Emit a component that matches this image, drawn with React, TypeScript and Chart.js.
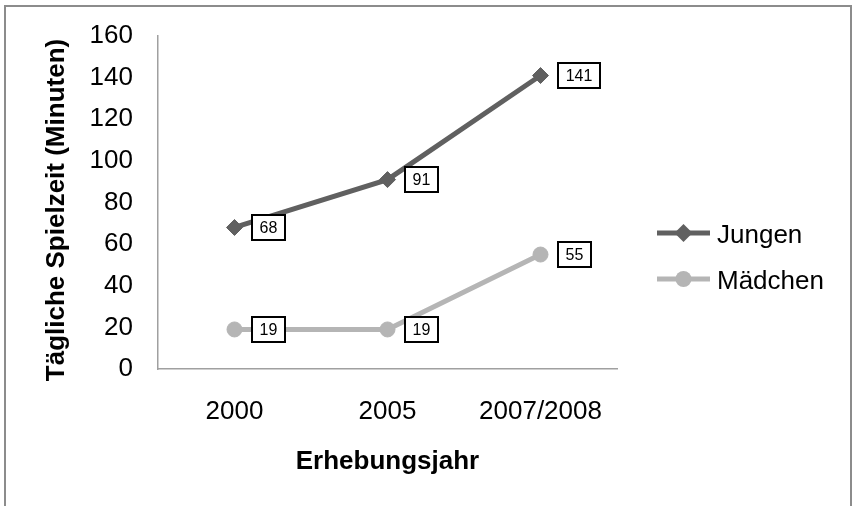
import React, { useEffect, useRef } from 'react';
import { Chart, registerables } from 'chart.js';

Chart.register(...registerables);

const categories = ['2000', '2005', '2007/2008'];
const jungenValues = [68, 91, 141];
const maedchenValues = [19, 19, 55];
const seriesNames = ['Jungen', 'Mädchen'];
const yMin = 0;
const yMax = 160;
const yStep = 20;
const xTitle = 'Erhebungsjahr';
const yTitle = 'Tägliche Spielzeit (Minuten)';

const FONT = '"Liberation Sans", Arial, sans-serif';
const DARK = '#606060';
const LIGHT = '#b5b5b5';

const framePlugin = {
  id: 'frame',
  beforeDraw(chart: any) {
    const { ctx, width, height } = chart;
    ctx.save();
    ctx.fillStyle = '#ffffff';
    ctx.fillRect(0, 0, width, height);
    ctx.restore();
  },
  afterDraw(chart: any) {
    const { ctx } = chart;
    ctx.save();
    ctx.strokeStyle = '#8c8c8c';
    ctx.lineWidth = 2;
    ctx.strokeRect(5, 6, 846, 520);
    ctx.restore();
  },
};

const yTitlePlugin = {
  id: 'yTitleCustom',
  afterDraw(chart: any) {
    const { ctx } = chart;
    ctx.save();
    ctx.translate(57, 210);
    ctx.rotate(-Math.PI / 2);
    ctx.font = `bold 26px ${FONT}`;
    ctx.fillStyle = '#000';
    ctx.textAlign = 'center';
    ctx.textBaseline = 'middle';
    ctx.fillText(yTitle, 0, 0);
    ctx.restore();
  },
};

const labelPlugin = {
  id: 'boxLabels',
  afterDatasetsDraw(chart: any) {
    const { ctx } = chart;
    ctx.save();
    ctx.font = `16px ${FONT}`;
    chart.data.datasets.forEach((ds: any, i: number) => {
      const meta = chart.getDatasetMeta(i);
      meta.data.forEach((pt: any, j: number) => {
        const text = String(ds.data[j]);
        const tw = ctx.measureText(text).width;
        const w = Math.round(tw + 17);
        const h = 27;
        const left = Math.round(pt.x + 16);
        const top = Math.round(pt.y - h / 2);
        ctx.fillStyle = '#fff';
        ctx.fillRect(left, top, w, h);
        ctx.strokeStyle = '#000';
        ctx.lineWidth = 2;
        ctx.strokeRect(left + 1, top + 1, w - 2, h - 2);
        ctx.fillStyle = '#000';
        ctx.textAlign = 'center';
        ctx.textBaseline = 'middle';
        ctx.fillText(text, left + w / 2, top + h / 2 + 1);
      });
    });
    ctx.restore();
  },
};

const legendPlugin = {
  id: 'sideLegend',
  afterDraw(chart: any) {
    const { ctx } = chart;
    ctx.save();
    const rows = [233, 279];
    chart.data.datasets.forEach((ds: any, i: number) => {
      const y = rows[i];
      ctx.strokeStyle = ds.borderColor;
      ctx.lineWidth = 5;
      ctx.beginPath();
      ctx.moveTo(657, y);
      ctx.lineTo(710, y);
      ctx.stroke();
      ctx.fillStyle = ds.borderColor;
      const cx = 683.5;
      ctx.beginPath();
      if (ds.pointStyle === 'rectRot') {
        const r = 9;
        ctx.moveTo(cx - r, y);
        ctx.lineTo(cx, y - r);
        ctx.lineTo(cx + r, y);
        ctx.lineTo(cx, y + r);
        ctx.closePath();
      } else {
        ctx.arc(cx, y, 8, 0, Math.PI * 2);
      }
      ctx.fill();
      ctx.font = `26px ${FONT}`;
      ctx.fillStyle = '#000';
      ctx.textAlign = 'left';
      ctx.textBaseline = 'middle';
      ctx.fillText(ds.label, 717, y + 3);
    });
    ctx.restore();
  },
};

export default function App() {
  const canvasRef = useRef<HTMLCanvasElement | null>(null);

  useEffect(() => {
    document.body.style.margin = '0';
    const canvas = canvasRef.current;
    if (!canvas) return;
    const chart = new Chart(canvas, {
      type: 'line',
      data: {
        labels: categories,
        datasets: [
          {
            label: seriesNames[0],
            data: jungenValues,
            borderColor: DARK,
            backgroundColor: DARK,
            pointBackgroundColor: DARK,
            pointBorderColor: DARK,
            borderWidth: 5,
            pointStyle: 'rectRot',
            pointRadius: 8,
            pointBorderWidth: 1,
            tension: 0,
          },
          {
            label: seriesNames[1],
            data: maedchenValues,
            borderColor: LIGHT,
            backgroundColor: LIGHT,
            pointBackgroundColor: LIGHT,
            pointBorderColor: LIGHT,
            borderWidth: 5,
            pointStyle: 'circle',
            pointRadius: 7.5,
            pointBorderWidth: 1,
            tension: 0,
          },
        ],
      },
      options: {
        responsive: false,
        animation: false,
        devicePixelRatio: 1,
        layout: { padding: { left: 0, top: 0, right: 237, bottom: 0 } },
        plugins: {
          legend: { display: false },
          tooltip: { enabled: false },
        },
        scales: {
          x: {
            type: 'category',
            offset: true,
            grid: { display: false, drawTicks: false },
            border: { display: true, color: '#a0a0a0', width: 1.5 },
            ticks: {
              color: '#000',
              font: { family: FONT, size: 26 },
              padding: 27,
              maxRotation: 0,
            },
            title: {
              display: true,
              text: xTitle,
              color: '#000',
              font: { family: FONT, size: 26, weight: 'bold' },
              padding: { top: 0, bottom: 29 },
            },
            afterFit(scale: any) {
              scale.height = 137;
            },
          },
          y: {
            min: yMin,
            max: yMax,
            grid: { display: false, drawTicks: false },
            border: { display: true, color: '#a0a0a0', width: 1.5 },
            ticks: {
              stepSize: yStep,
              color: '#000',
              font: { family: FONT, size: 26 },
              padding: 25,
            },
            afterFit(scale: any) {
              scale.width = 158;
              scale.paddingTop = 36;
            },
          },
        },
      },
      plugins: [framePlugin, labelPlugin, legendPlugin, yTitlePlugin],
    });
    return () => chart.destroy();
  }, []);

  return (
    <div style={{ width: 854, height: 506 }}>
      <canvas ref={canvasRef} width={854} height={506} style={{ display: 'block' }} />
    </div>
  );
}
